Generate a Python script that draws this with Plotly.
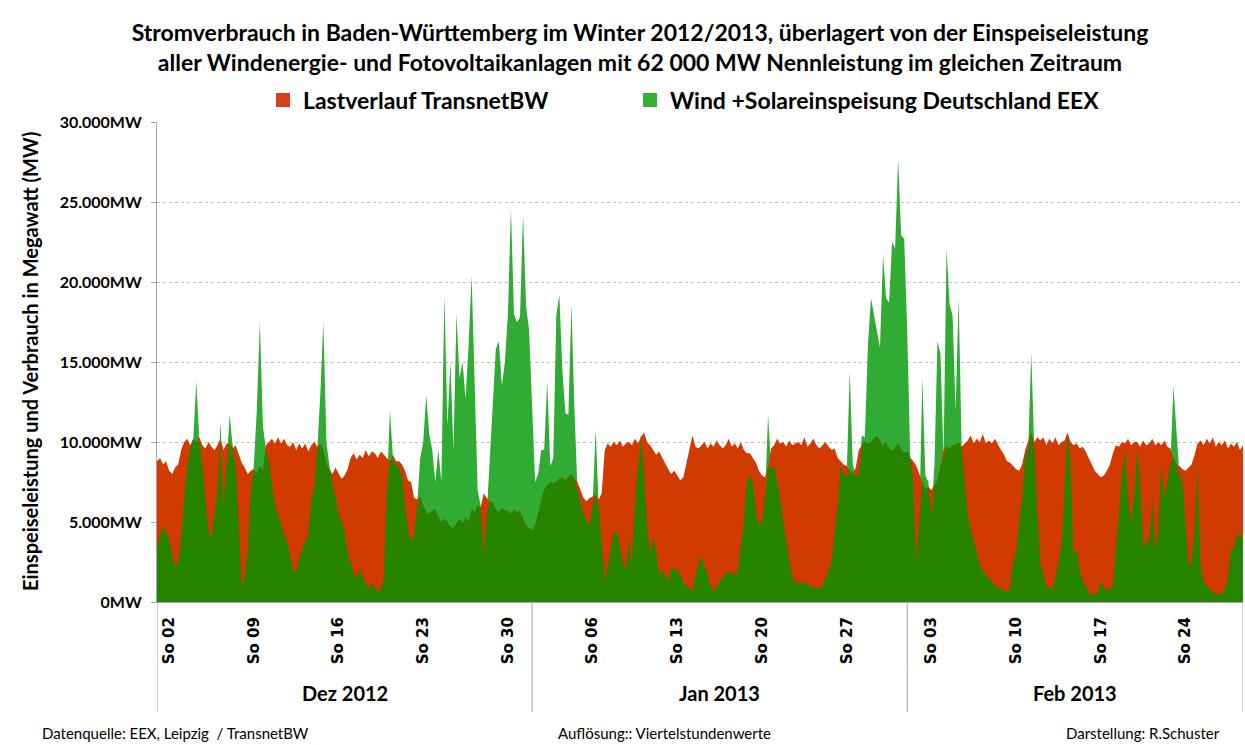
import numpy as np
import pandas as pd
import plotly.graph_objects as go

# ---------------- data (6-hourly readings, MW) ----------------
# Wind + solar feed-in Germany (EEX), starting 01.12.2012 00:00, 4 values per day
wind_dec = [
    3300, 4200, 4800, 4300,
    3900, 3000, 2200, 2500,
    4000, 6500, 8400, 9600,
    10200, 13800, 10000, 8500,
    6500, 4500, 4000, 5500,
    7000, 11300, 6000, 8500,
    11700, 9800, 8500, 5000,
    1000, 1500, 3300, 7000,
    8500, 12000, 17500, 11000,
    9600, 8800, 7500, 6000,
    5500, 4800, 4200, 3800,
    3000, 2000, 1800, 2700,
    3300, 3800, 4200, 6500,
    7000, 9600, 13000, 17500,
    10000, 8500, 7500, 6500,
    5500, 5000, 4500, 3000,
    2500, 1800, 1500, 2000,
    1600, 1200, 800, 1200,
    900, 600, 800, 1500,
    7000, 12000, 9000, 8500,
    8500, 7800, 6000, 4500,
    3800, 4200, 6000, 9000,
    10000, 12900, 10500, 9500,
    7500, 9500, 7500, 19200,
    11000, 15000, 9500, 18000,
    14000, 15000, 12700, 16000,
    20400, 14000, 7000, 6000,
    3000, 5500, 9000, 12500,
    15800, 16300, 13500, 15000,
    18000, 24600, 18000, 17500,
    17800, 24200, 18500, 17000,
]
wind_jan = [
    12000, 7500, 8000, 9500,
    9500, 13800, 8500, 9000,
    17900, 19200, 14500, 11800,
    11700, 18600, 12000, 7000,
    6300, 5500, 5000, 4800,
    6000, 10800, 6000, 3500,
    1400, 2200, 3300, 4400,
    4400, 3500, 2500, 2000,
    4000, 2300, 6000, 8500,
    10600, 8000, 4500, 3000,
    4000, 3300, 1700, 2000,
    1600, 1300, 2200, 2000,
    2000, 1700, 1200, 1000,
    800, 700, 1700, 2300,
    2900, 2200, 1700, 1000,
    650, 900, 1300, 1500,
    1800, 1900, 1800, 1700,
    1900, 3400, 5000, 7500,
    7900, 7500, 5500, 4800,
    5000, 6500, 11700, 8400,
    8400, 7500, 6500, 5000,
    3800, 2500, 1500, 1300,
    1100, 1200, 1300, 1100,
    1000, 900, 850, 900,
    1000, 1500, 1900, 2600,
    4400, 6000, 8600, 8000,
    7900, 14400, 8600, 7900,
    7900, 10400, 10300, 16000,
    19000, 17900, 17000, 15900,
    21700, 19000, 18700, 22500,
    22100, 27700, 22900, 22700,
]
wind_feb = [
    17000, 9000, 7500, 2500,
    5000, 14000, 7900, 7500,
    5400, 8600, 16300, 15500,
    9000, 22100, 18600, 17900,
    12000, 19000, 9600, 7500,
    5400, 4600, 3800, 3000,
    2300, 1900, 1700, 1500,
    1300, 1100, 850, 900,
    700, 650, 850, 2500,
    3000, 5000, 6500, 9000,
    9600, 15600, 9600, 5600,
    2500, 1700, 1000, 850,
    800, 1500, 2500, 3500,
    7000, 10600, 8600, 3000,
    3300, 2000, 1300, 1000,
    600, 400, 500, 600,
    1300, 900, 650, 850,
    900, 3300, 5400, 8000,
    9600, 6500, 5000, 6500,
    9600, 7500, 3400, 3800,
    3800, 6500, 3300, 4400,
    8600, 6500, 7500, 8600,
    13500, 10600, 7900, 7500,
    5000, 2300, 2500, 4400,
    8600, 2300, 1300, 1000,
    800, 650, 500, 450,
    500, 850, 1500, 3300,
    3300, 4400, 4000, 4200,
]

# Load TransnetBW (Baden-Württemberg), same time steps
load_dec = [
    8800, 9000, 8600, 8800,
    8200, 8000, 8400, 8600,
    9500, 10000, 10200, 9800,
    10200, 10000, 10300, 9800,
    9600, 10000, 9700, 9500,
    9800, 10200, 9500, 9900,
    9900, 9600, 9800, 9300,
    8700, 8400, 8000, 8200,
    8300, 8000, 8500, 8200,
    9800, 10000, 10200, 9900,
    10300, 9900, 10200, 9800,
    9700, 10000, 9500, 9900,
    9600, 9900, 9400, 9800,
    10000, 9700, 9900, 9500,
    8600, 8300, 8000, 8400,
    8000, 7700, 7900, 8300,
    9000, 9300, 8900, 9200,
    9000, 9500, 9100, 9400,
    9300, 9000, 9400, 9200,
    9000, 8800, 9200, 8800,
    8800, 8600, 8200, 7600,
    7500, 6500, 6400, 6600,
    6000, 5600, 5500, 5700,
    5800, 5300, 5000, 5200,
    5000, 4700, 4600, 4900,
    5200, 4900, 5300, 5000,
    5800, 5600, 6000, 5900,
    6800, 6500, 6300, 6200,
    5800, 5600, 5900, 5700,
    5700, 5500, 5800, 5600,
    5700, 5200, 4800, 4600,
]
load_jan = [
    4500, 4800, 5600, 6300,
    7000, 7300, 7500, 7400,
    7500, 7700, 7800, 7600,
    7800, 8000, 7700, 7500,
    7000, 6500, 6300, 6500,
    6600, 6700, 6400, 6800,
    9500, 9900, 9700, 10000,
    9800, 10100, 9700, 9900,
    10000, 9800, 10200, 9900,
    10300, 10600, 10000, 9800,
    9500, 9200, 9400, 9000,
    8600, 8300, 8000, 8200,
    7900, 7600, 7800, 8600,
    9600, 10400, 9700, 9600,
    9800, 10000, 9600, 9900,
    9700, 10100, 9800, 9600,
    9800, 10200, 9700, 9900,
    9600, 10000, 9500, 9300,
    9300, 9000, 8700, 8200,
    7900, 7800, 8400, 9600,
    9800, 10200, 9900, 10000,
    9700, 10100, 9800, 9900,
    10000, 9800, 10300, 9700,
    9900, 10200, 9800, 9600,
    9800, 10000, 9700, 9500,
    9600, 9000, 8800, 8600,
    8500, 8200, 8000, 8400,
    9500, 9800, 10000, 9900,
    10000, 10200, 10400, 10100,
    9800, 10000, 9600, 9400,
    9700, 9900, 9500, 9300,
]
load_feb = [
    9400, 9000, 8800, 8500,
    8000, 7500, 7000, 7200,
    7000, 7300, 7600, 8500,
    9500, 9700, 9600, 9800,
    9800, 10000, 9700, 9900,
    10100, 10400, 9900, 10200,
    10000, 10500, 9900, 10100,
    9900, 10200, 9800, 9500,
    9200, 8800, 8700, 8500,
    8300, 8200, 8600, 9500,
    10000, 10600, 10000, 10300,
    10100, 10300, 9800, 10200,
    9900, 10300, 9800, 10000,
    10100, 10600, 10000, 9800,
    9900, 9600, 9700, 9400,
    9000, 8600, 8200, 8000,
    7800, 7900, 8200, 8600,
    9300, 9800, 9700, 10000,
    9900, 10200, 9800, 10000,
    10000, 9700, 10100, 9800,
    9900, 10200, 9800, 10000,
    9800, 10100, 9700, 9600,
    9000, 8600, 8500, 8300,
    8200, 8400, 8600, 9200,
    9900, 10100, 9800, 10200,
    9900, 10300, 9700, 10000,
    9800, 10100, 9600, 9900,
    9700, 10000, 9500, 9800,
]

# axis ticks / labels
sunday_dates = ["2012-12-02", "2012-12-09", "2012-12-16", "2012-12-23", "2012-12-30",
                "2013-01-06", "2013-01-13", "2013-01-20", "2013-01-27",
                "2013-02-03", "2013-02-10", "2013-02-17", "2013-02-24"]
sunday_labels = ["So 02", "So 09", "So 16", "So 23", "So 30",
                 "So 06", "So 13", "So 20", "So 27",
                 "So 03", "So 10", "So 17", "So 24"]
month_starts = ["2012-12-01", "2013-01-01", "2013-02-01", "2013-03-01"]
month_labels = ["Dez 2012", "Jan 2013", "Feb 2013"]
y_ticks = [0, 5000, 10000, 15000, 20000, 25000, 30000]
y_ticklabels = ["0MW", "5.000MW", "10.000MW", "15.000MW", "20.000MW", "25.000MW", "30.000MW"]

# ---------------- figure ----------------
RED = "#D13A00"
DARK_GREEN = "#268400"
LIGHT_GREEN = "#30AB34"
LEG_RED = "#D7401A"
LEG_GREEN = "#35B035"

wind = np.array(wind_dec + wind_jan + wind_feb, dtype=float)
load = np.array(load_dec + load_jan + load_feb, dtype=float)
t = pd.date_range("2012-12-01", periods=len(wind), freq="6h")
covered = np.minimum(wind, load)

fig = go.Figure()
fig.add_trace(go.Scatter(x=t, y=wind, mode="lines", fill="tozeroy", fillcolor=LIGHT_GREEN,
                         line=dict(width=0, color=LIGHT_GREEN), showlegend=False, hoverinfo="skip"))
fig.add_trace(go.Scatter(x=t, y=load, mode="lines", fill="tozeroy", fillcolor=RED,
                         line=dict(width=0, color=RED), showlegend=False, hoverinfo="skip"))
fig.add_trace(go.Scatter(x=t, y=covered, mode="lines", fill="tozeroy", fillcolor=DARK_GREEN,
                         line=dict(width=0, color=DARK_GREEN), showlegend=False, hoverinfo="skip"))
# legend entries
fig.add_trace(go.Scatter(x=[None], y=[None], mode="markers", name="Lastverlauf TransnetBW",
                         marker=dict(symbol="square", size=14, color=LEG_RED), legend="legend"))
fig.add_trace(go.Scatter(x=[None], y=[None], mode="markers", name="Wind +Solareinspeisung Deutschland EEX",
                         marker=dict(symbol="square", size=14, color=LEG_GREEN), legend="legend2"))

L, R, T, B = 157, 2, 122, 143
W, H = 1245, 745
pw, ph = W - L - R, H - T - B

def px_to_paper_x(px):
    return (px - L) / pw

def px_to_paper_y(py):
    return (H - B - py) / ph

end_t = t[-1]
ann = []
for i, lab in enumerate(month_labels):
    a = pd.Timestamp(month_starts[i])
    b = min(pd.Timestamp(month_starts[i + 1]), end_t)
    mid = a + (b - a) / 2
    ann.append(dict(x=mid, y=px_to_paper_y(693), xref="x", yref="paper", text=lab, showarrow=False,
                    xanchor="center", yanchor="middle",
                    font=dict(family="Lato", size=20, color="black", weight="bold")))

shapes = []
for ms in month_starts:
    xb = min(pd.Timestamp(ms), end_t)
    shapes.append(dict(type="line", xref="x", yref="paper", x0=xb, x1=xb,
                       y0=0, y1=px_to_paper_y(712), line=dict(color="#A6A6A6", width=1)))

ann.append(dict(x=px_to_paper_x(30), y=0.5, xref="paper", yref="paper",
                text="Einspeiseleistung und Verbrauch in Megawatt (MW)", textangle=-90,
                showarrow=False, xanchor="center", yanchor="middle",
                font=dict(family="Lato", size=20, color="black", weight="bold")))

foot_font = dict(family="Lato", size=15, color="black")
foot_y = px_to_paper_y(744)
ann.append(dict(x=px_to_paper_x(40), y=foot_y, xref="paper", yref="paper",
                text="Datenquelle: EEX, Leipzig &nbsp;/ TransnetBW", showarrow=False,
                xanchor="left", yanchor="bottom", font=foot_font))
ann.append(dict(x=px_to_paper_x(664), y=foot_y, xref="paper", yref="paper",
                text="Auflösung:: Viertelstundenwerte", showarrow=False,
                xanchor="center", yanchor="bottom", font=foot_font))
ann.append(dict(x=px_to_paper_x(1222), y=foot_y, xref="paper", yref="paper",
                text="Darstellung: R.Schuster", showarrow=False,
                xanchor="right", yanchor="bottom", font=foot_font))

leg_font = dict(family="Lato", size=23, color="black", weight="bold")
fig.update_layout(
    width=W, height=H,
    margin=dict(l=L, r=R, t=T, b=B, autoexpand=False),
    paper_bgcolor="white", plot_bgcolor="white",
    title=dict(text="Stromverbrauch in Baden-Württemberg im Winter 2012/2013, überlagert von der Einspeiseleistung"
                    "<br>aller Windenergie- und Fotovoltaikanlagen mit 62 000 MW Nennleistung im gleichen Zeitraum",
               x=640 / W, xref="container", xanchor="center",
               y=1 - 41 / H, yref="container", yanchor="top",
               font=dict(family="Lato", size=23, color="black", weight="bold")),
    legend=dict(orientation="h", xref="container", yref="container",
                x=263 / W, xanchor="left", y=1 - 100 / H, yanchor="middle",
                font=leg_font, bgcolor="rgba(0,0,0,0)"),
    legend2=dict(orientation="h", xref="container", yref="container",
                 x=630 / W, xanchor="left", y=1 - 100 / H, yanchor="middle",
                 font=leg_font, bgcolor="rgba(0,0,0,0)"),
    xaxis=dict(type="date", range=[t[0], end_t], tickmode="array",
               tickvals=sunday_dates, ticktext=sunday_labels, tickangle=-90,
               ticks="", showgrid=False, showline=True, linecolor="#A6A6A6", linewidth=1,
               zeroline=False, automargin=False, ticklabelstandoff=8,
               tickfont=dict(family="DejaVu Sans", size=15, color="black", weight="bold")),
    yaxis=dict(range=[0, 30000], tickmode="array", tickvals=y_ticks, ticktext=y_ticklabels,
               showgrid=True, gridcolor="#BDBDBD", griddash="dot", gridwidth=1,
               showline=True, linecolor="#A6A6A6", linewidth=1,
               ticks="outside", ticklen=5, tickcolor="#A6A6A6",
               zeroline=False, automargin=False, ticklabelstandoff=6,
               tickfont=dict(family="Lato", size=16, color="black", weight="bold")),
    annotations=ann, shapes=shapes,
    showlegend=True,
)

fig.write_html("out.html", config={"displayModeBar": False},
               post_script="document.body.style.margin='0';")
